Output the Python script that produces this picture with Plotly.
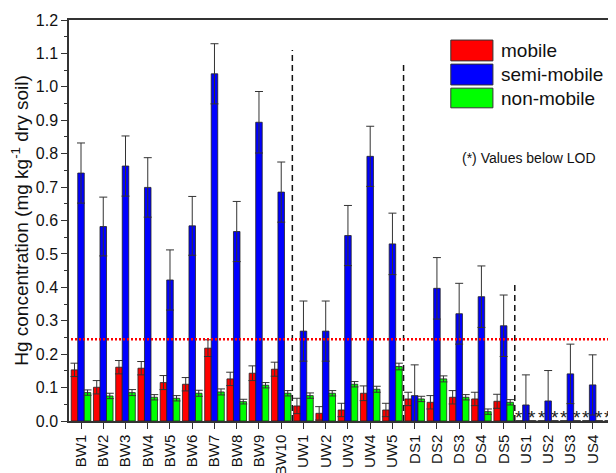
import plotly.graph_objects as go

categories = ["BW1", "BW2", "BW3", "BW4", "BW5", "BW6", "BW7", "BW8", "BW9", "BW10",
              "UW1", "UW2", "UW3", "UW4", "UW5",
              "DS1", "DS2", "DS3", "DS4", "DS5",
              "US1", "US2", "US3", "US4", "US5"]

mobile = [0.153, 0.101, 0.161, 0.158, 0.115, 0.110, 0.218, 0.126, 0.143, 0.155,
          0.045, 0.023, 0.033, 0.083, 0.033,
          0.066, 0.056, 0.071, 0.066, 0.059,
          0, 0, 0, 0, 0]
mobile_err = [0.020, 0.020, 0.020, 0.020, 0.021, 0.020, 0.025, 0.020, 0.022, 0.021,
              0.023, 0.020, 0.020, 0.022, 0.020,
              0.020, 0.020, 0.020, 0.020, 0.021,
              0, 0, 0, 0, 0]
semi_mobile = [0.742, 0.582, 0.763, 0.699, 0.422, 0.584, 1.039, 0.567, 0.894, 0.685,
               0.269, 0.269, 0.555, 0.792, 0.530,
               0.076, 0.397, 0.321, 0.372, 0.285,
               0.048, 0.060, 0.141, 0.108, 0.071]
semi_mobile_err = [0.090, 0.088, 0.090, 0.089, 0.090, 0.088, 0.090, 0.090, 0.092, 0.090,
                   0.090, 0.090, 0.090, 0.090, 0.092,
                   0.092, 0.092, 0.091, 0.092, 0.092,
                   0.090, 0.091, 0.089, 0.090, 0.092]
non_mobile = [0.085, 0.075, 0.085, 0.071, 0.068, 0.083, 0.087, 0.058, 0.107, 0.083,
              0.076, 0.083, 0.110, 0.095, 0.163,
              0.066, 0.126, 0.071, 0.028, 0.056,
              0, 0, 0, 0, 0]
non_mobile_err = [0.008, 0.008, 0.009, 0.008, 0.008, 0.009, 0.009, 0.007, 0.008, 0.008,
                  0.008, 0.008, 0.008, 0.009, 0.010,
                  0.008, 0.009, 0.008, 0.008, 0.008,
                  0, 0, 0, 0, 0]
below_lod_sites = ["US1", "US2", "US3", "US4", "US5"]

threshold = 0.245
dividers = [(9.5, 1.11), (14.5, 1.075), (19.5, 0.415)]

FONT = "Liberation Sans, Arial, sans-serif"
EDGE = "#222222"
ERRC = "#333333"

fig = go.Figure()
series = [
    ("mobile", mobile, mobile_err, "#ff0000"),
    ("semi-mobile", semi_mobile, semi_mobile_err, "#0000ff"),
    ("non-mobile", non_mobile, non_mobile_err, "#00ff00"),
]
for name, vals, errs, col in series:
    fig.add_trace(go.Bar(
        x=categories, y=vals, name=name,
        marker=dict(color=col, line=dict(color=EDGE, width=0.8)),
        error_y=dict(type="data", array=errs, visible=True, color=ERRC,
                     thickness=1, width=4),
        showlegend=False))

shapes = []
for xv, top in dividers:
    shapes.append(dict(type="line", xref="x", yref="y", x0=xv, x1=xv, y0=0, y1=top,
                       line=dict(color="#111111", width=1.5, dash="6px,4px")))
shapes.append(dict(type="line", xref="x", yref="y", x0=-0.45, x1=25, y0=threshold, y1=threshold,
                   line=dict(color="#ff0000", width=2.5, dash="2px,2px")))

annotations = []
# asterisks for values below LOD (mobile and non-mobile positions)
bar_px = 547 / 24.54 * 0.88 / 3
for site in below_lod_sites:
    for sgn in (-1, 1):
        annotations.append(dict(xref="x", yref="y", x=site, y=0, text="*",
                                showarrow=False, xanchor="center", yanchor="bottom",
                                xshift=sgn * bar_px, yshift=-9,
                                font=dict(family=FONT, size=19, color="#222222")))

# legend drawn manually
leg = [("mobile", "#ff0000", 0.950, 0.898, 0.924),
       ("semi-mobile", "#0000ff", 0.890, 0.838, 0.864),
       ("non-mobile", "#00ff00", 0.830, 0.781, 0.805)]
for name, col, y1, y0, yc in leg:
    shapes.append(dict(type="rect", xref="paper", yref="paper", x0=0.698, x1=0.775,
                       y0=y0, y1=y1, fillcolor=col, line=dict(color="#333333", width=1)))
    annotations.append(dict(xref="paper", yref="paper", x=0.787, y=yc, text=name,
                            showarrow=False, xanchor="left", yanchor="middle",
                            font=dict(family=FONT, size=19, color="#111111")))
annotations.append(dict(xref="paper", yref="paper", x=0.714, y=0.656,
                        text="(*) Values below LOD", showarrow=False,
                        xanchor="left", yanchor="middle",
                        font=dict(family=FONT, size=14, color="#111111")))

fig.update_layout(
    width=608, height=465,
    margin=dict(l=61, r=0, t=12, b=52, autoexpand=False),
    paper_bgcolor="white", plot_bgcolor="white",
    barmode="group", bargap=0.12, bargroupgap=0,
    shapes=shapes, annotations=annotations,
    font=dict(family=FONT, color="#111111"),
)
fig.update_xaxes(
    type="category", range=[-0.54, 24.05], automargin=False,
    showline=True, linecolor="#333333", linewidth=1.5, mirror=True,
    ticks="outside", ticklen=6, tickcolor="#333333", tickwidth=1,
    tickangle=-90, tickfont=dict(family=FONT, size=15, color="#111111"),
    showgrid=False, zeroline=False,
)
fig.update_yaxes(
    range=[0, 1.2], dtick=0.1, tickformat=".1f", automargin=False,
    showline=True, linecolor="#333333", linewidth=1.5, mirror=True,
    ticks="outside", ticklen=6, tickcolor="#333333", tickwidth=1,
    minor=dict(dtick=0.05, ticks="outside", ticklen=3, tickcolor="#333333"),
    tickfont=dict(family=FONT, size=16, color="#111111"),
    title=dict(text="Hg concentration (mg kg<sup>-1</sup> dry soil)",
               font=dict(family=FONT, size=19, color="#111111"), standoff=6),
    showgrid=False, zeroline=False,
)

fig.write_html("out.html")
